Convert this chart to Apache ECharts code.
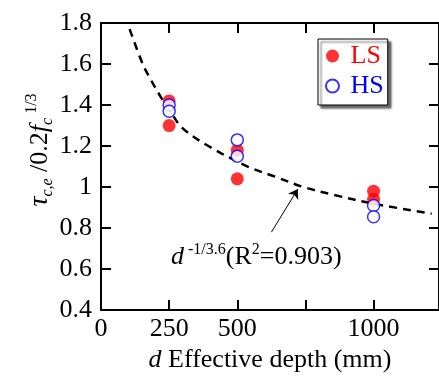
<!DOCTYPE html>
<html>
<head>
<meta charset="utf-8">
<script src="https://cdn.jsdelivr.net/npm/echarts@6/dist/echarts.min.js"></script>
<style>html,body{margin:0;padding:0;background:#fff}#c{width:439px;height:378px}</style>
</head>
<body>
<div id="c"></div>
<script>
// Data
var lsDepth = [250, 250, 500, 500, 1000, 1000];
var lsRatio = [1.42, 1.30, 1.18, 1.04, 0.98, 0.94];
var hsDepth = [250, 250, 500, 500, 1000, 1000];
var hsRatio = [1.40, 1.37, 1.23, 1.15, 0.91, 0.855];
var fitDepth = [105, 153, 180, 219, 250, 297, 394, 538, 640, 743, 860, 996, 1213];
var fitRatio = [1.77, 1.60, 1.53, 1.44, 1.38, 1.29, 1.20, 1.10, 1.05, 1.00, 0.96, 0.92, 0.87];
var xTickLabels = [0, 250, 500, 1000];
var arrowFrom = [625, 0.78];
var arrowTo = [722, 0.99];

var FONT = 'Liberation Serif';
function pairs(xs, ys) { return xs.map(function (x, i) { return [x, ys[i]]; }); }

var chart = echarts.init(document.getElementById('c'), null, { renderer: 'canvas' });
var axisLineStyle = { color: '#000', width: 2 };
var tickStyle = { show: true, inside: true, length: 10, lineStyle: { color: '#000', width: 2 } };

chart.setOption({
  animation: false,
  backgroundColor: '#fff',
  grid: { left: 101, top: 23, width: 343, height: 291, containLabel: false },
  xAxis: [{
    type: 'value', min: 0, max: 1240, interval: 250, position: 'bottom',
    axisLine: { show: true, lineStyle: axisLineStyle, onZero: false },
    axisTick: tickStyle, splitLine: { show: false },
    axisLabel: {
      margin: 6, color: '#000', fontFamily: FONT, fontSize: 26, showMaxLabel: false,
      formatter: function (v) { return xTickLabels.indexOf(v) >= 0 ? String(v) : ''; }
    },
    name: '{i|d} Effective depth (mm)', nameLocation: 'middle', nameGap: 22,
    nameTextStyle: {
      color: '#000', fontFamily: FONT, fontSize: 26, verticalAlign: 'top',
      rich: { i: { fontStyle: 'italic', fontFamily: FONT, fontSize: 26, color: '#000' } }
    }
  }, {
    type: 'value', min: 0, max: 1240, interval: 250, position: 'top',
    axisLine: { show: true, lineStyle: axisLineStyle, onZero: false },
    axisTick: tickStyle, splitLine: { show: false }, axisLabel: { show: false }
  }],
  yAxis: [{
    type: 'value', min: 0.4, max: 1.8, interval: 0.2, position: 'left',
    axisLine: { show: true, lineStyle: axisLineStyle, onZero: false },
    axisTick: tickStyle, splitLine: { show: false },
    axisLabel: { margin: 9, color: '#000', fontFamily: FONT, fontSize: 26 }
  }, {
    type: 'value', min: 0.4, max: 1.8, interval: 0.2, position: 'right',
    axisLine: { show: true, lineStyle: axisLineStyle, onZero: false },
    axisTick: tickStyle, splitLine: { show: false }, axisLabel: { show: false }
  }],
  legend: {
    left: 318, top: 39, orient: 'vertical',
    padding: [4, 4, 6, 7], itemGap: 4, itemWidth: 26, itemHeight: 13,
    backgroundColor: '#fff', borderColor: '#000', borderWidth: 1,
    shadowColor: 'rgba(0,0,0,0.6)', shadowBlur: 2, shadowOffsetX: 3, shadowOffsetY: 3,
    textStyle: { fontFamily: FONT, fontSize: 26, padding: [0, 0, 0, 0] },
    data: [
      { name: 'LS', icon: 'circle', textStyle: { color: '#ff0000' } },
      { name: 'HS', icon: 'circle', textStyle: { color: '#0000ff' } }
    ]
  },
  series: [{
    name: 'fit', type: 'line', data: pairs(fitDepth, fitRatio), smooth: 0.35,
    symbol: 'none', z: 1,
    lineStyle: { color: '#000', width: 2.5, type: [8, 6] }
  }, {
    name: 'arrow', type: 'line', data: [], z: 1,
    markLine: {
      silent: true, symbolSize: 9, precision: 3,
      lineStyle: { color: '#000', width: 1, type: 'solid' },
      label: { show: false },
      data: [[{ coord: arrowFrom, symbol: 'none' }, { coord: arrowTo, symbol: 'arrow' }]]
    }
  }, {
    name: 'LS', type: 'scatter', data: pairs(lsDepth, lsRatio), symbol: 'circle', symbolSize: 13, z: 2,
    itemStyle: { color: '#ff0000' }
  }, {
    name: 'HS', type: 'scatter', data: pairs(hsDepth, hsRatio), symbol: 'circle', symbolSize: 12, z: 3,
    itemStyle: { color: '#ffffff', borderColor: '#0000ff', borderWidth: 1.5 }
  }],
  graphic: [{
    type: 'text', x: 40, y: 150, rotation: Math.PI / 2,
    style: {
      text: '{t|τ}{s|c,e}{n| /0.2}{f|f}{s|c}{p| 1/3}',
      align: 'center', verticalAlign: 'middle', fill: '#000',
      rich: {
        t: { fontFamily: FONT, fontStyle: 'italic', fontSize: 28, lineHeight: 32, fill: '#000' },
        s: { fontFamily: FONT, fontStyle: 'italic', fontSize: 16, lineHeight: 32, verticalAlign: 'bottom', fill: '#000' },
        n: { fontFamily: FONT, fontSize: 26, lineHeight: 32, fill: '#000' },
        f: { fontFamily: FONT, fontStyle: 'italic', fontSize: 26, lineHeight: 32, fill: '#000' },
        p: { fontFamily: FONT, fontSize: 16, lineHeight: 32, verticalAlign: 'top', fill: '#000' }
      }
    }
  }, {
    type: 'text', x: 171, y: 257,
    style: {
      text: '{d|d}{p| -1/3.6}{n|(R}{p|2}{n|=0.903)}',
      align: 'left', verticalAlign: 'middle', fill: '#000',
      rich: {
        d: { fontFamily: FONT, fontStyle: 'italic', fontSize: 26, lineHeight: 30, fill: '#000' },
        n: { fontFamily: FONT, fontSize: 26, lineHeight: 30, fill: '#000' },
        p: { fontFamily: FONT, fontSize: 16, lineHeight: 30, verticalAlign: 'top', fill: '#000' }
      }
    }
  }]
});
</script>
</body>
</html>
